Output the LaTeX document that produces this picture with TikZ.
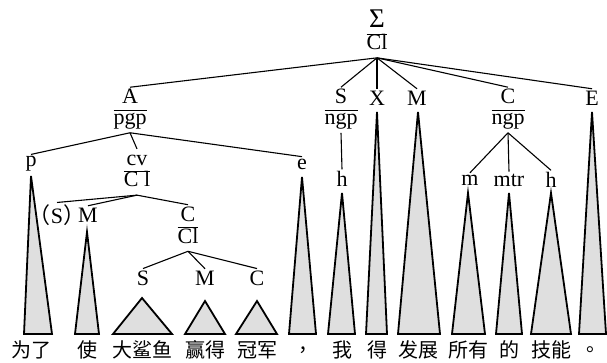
\documentclass[tikz,border=0pt]{standalone}
\usepackage{fontspec}
\setmainfont{Liberation Serif}
\newfontfamily\zh{Noto Sans CJK SC}
\newcommand{\frlab}[2]{\begin{tabular}{@{}c@{}}#1\\\hline #2\end{tabular}}
\renewcommand{\arraystretch}{0.85}

\begin{document}
\begin{tikzpicture}[x=1pt, y=-1pt, line width=1.1pt, inner sep=1.5pt,
    font=\fontsize{22}{24}\selectfont,
    tri/.style={draw, line width=1.8pt, fill=gray!25},
    word/.style={inner sep=0pt, font=\zh\fontsize{20}{22}\selectfont}]
  \useasboundingbox (0,0) rectangle (607,362);

  \node (top) at (377,33) {\frlab{{\fontsize{27}{27}\selectfont Σ}}{Cl}};
  \node (A) at (130,110) {\frlab{A}{pgp}};
  \node (S) at (341,110) {\frlab{S}{ngp}};
  \node (X) at (377,98) {X};
  \node (M) at (417,98) {M};
  \node (C) at (508,110) {\frlab{C}{ngp}};
  \node (E) at (592,98) {E};
  \node (p) at (31,164) {p};
  \node (cv) at (137,172) {\frlab{cv}{C l}};
  \node (e) at (302,164) {e};
  \node (h1) at (342,179) {h};
  \node (sub) at (57,215) {{\zh （}S{\zh ）}};
  \node (pred) at (88,215) {M};
  \node (cl) at (188,228) {\frlab{C}{Cl}};
  \node (s2) at (143,278) {S};
  \node (m2) at (205,278) {M};
  \node (c2) at (257,278) {C};
  \node (mod) at (470,180) {m};
  \node (mtr) at (509,180) {mtr};
  \node (h2) at (551,180) {h};

  \path (top.south) edge (A.north) edge (S.north) edge (X.north)
                    edge (M.north) edge (C.north) edge (E.north)
        (A.south) edge (p.north) edge (cv.north) edge (e.north)
        (cv.south) edge (sub.north) edge (pred.north) edge (cl.north)
        (cl.south) edge (s2.north) edge (m2.north) edge (c2.north)
        (S.south) edge (h1.north)
        (C.south) edge (mod.north) edge (mtr.north) edge (h2.north);

  \foreach \ax/\ay/\l/\r in {31/176/24/52, 87/232/75/99, 142/298/113/172,
      205/301/185/225, 257/301/236/277, 302/177/289/316, 342/193/328/355,
      377/112/366/387, 418/112/398/440, 468/193/452/485, 509/193/496/522,
      551/193/531/571, 592/112/579/606}
    \draw[tri] (\ax,\ay) -- (\r,334) -- (\l,334) -- cycle;

  \foreach \x/\w [count=\i] in {31/为了, 87/使, 142/大鲨鱼, 205/赢得, 257/冠军,
      308/，, 342/我, 377/得, 418/发展, 468/所有, 509/的, 551/技能, 596/。}
    \node[word] (w\i) at (\x,350) {\w};
\end{tikzpicture}
\end{document}
